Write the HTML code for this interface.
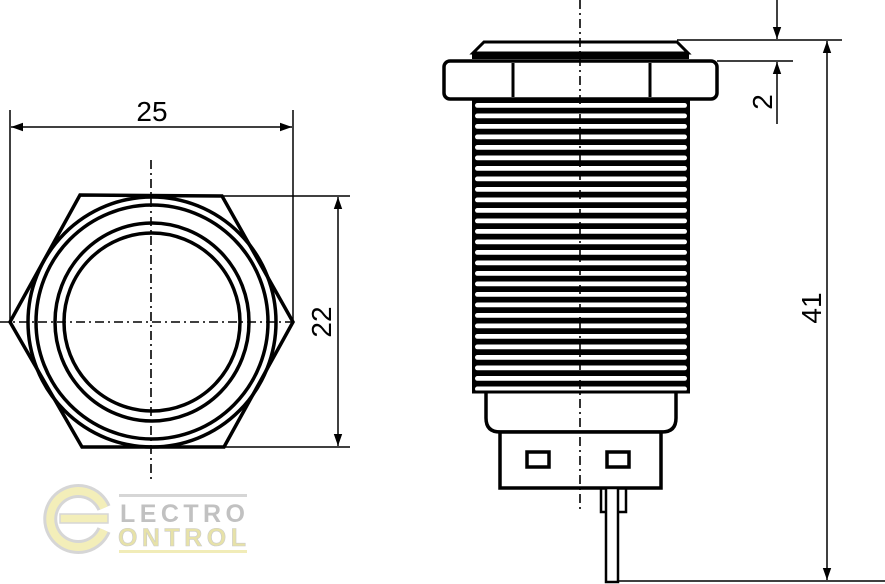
<!DOCTYPE html>
<html><head><meta charset="utf-8"><style>html,body{margin:0;padding:0;background:#fff}svg{display:block}</style></head>
<body>
<svg width="885" height="584" viewBox="0 0 885 584" xmlns="http://www.w3.org/2000/svg">
<defs>
<marker id="ar" viewBox="0 0 10 10" refX="10" refY="5" markerWidth="12" markerHeight="12" markerUnits="userSpaceOnUse" orient="auto-start-reverse"><path d="M0,1.5 L10,5 L0,8.5 z" fill="#000"/></marker>
<pattern id="thr" patternUnits="userSpaceOnUse" x="472" y="100" width="220" height="10.5">
<rect x="0" y="0" width="220" height="10.5" fill="#000"/>
<rect x="3" y="3" width="212" height="4.8" rx="2.4" fill="#fff"/>
</pattern>
</defs>
<!-- logo -->
<g opacity="0.6">
<path d="M104,530 A28,28 0 1 1 104,508" fill="none" stroke="#bbb" stroke-width="14"/>
<path d="M104,530 A28,28 0 1 1 104,508" fill="none" stroke="#ece48c" stroke-width="8"/>
<rect x="60" y="514" width="48" height="9" fill="#ece48c" stroke="#bbb" stroke-width="1.5"/>
<rect x="119" y="494" width="128" height="3" fill="#bbb"/>
<rect x="119" y="550" width="128" height="3" fill="#e8e08a"/>
<text x="120" y="522" font-family="Liberation Sans, sans-serif" font-weight="bold" font-size="25" fill="#999" textLength="125">LECTRO</text>
<text x="118" y="546" font-family="Liberation Sans, sans-serif" font-weight="bold" font-size="25" fill="#d8d070" stroke="#aaa" stroke-width="0.6" textLength="128">ONTROL</text>
</g>
<g fill="none" stroke="#000">
<!-- front view -->
<line x1="151" y1="160" x2="151" y2="482" stroke-width="1.6" stroke-dasharray="9,4,2,4"/>
<line x1="0" y1="322" x2="295" y2="322" stroke-width="1.6" stroke-dasharray="9,4,2,4"/>
<polygon points="80,195 222,196 293,322 224,447 82,447 10,322" stroke-width="3.5"/>
<ellipse cx="152" cy="322" rx="124" ry="125" stroke-width="3.5"/>
<ellipse cx="152" cy="322" rx="116" ry="117" stroke-width="3.5"/>
<ellipse cx="152" cy="322" rx="97" ry="99" stroke-width="3.5"/>
<ellipse cx="152" cy="322" rx="88" ry="89" stroke-width="3.5"/>
<g stroke-width="1.5">
<line x1="10" y1="110" x2="10" y2="322"/>
<line x1="293" y1="110" x2="293" y2="322"/>
<line x1="11" y1="127" x2="292" y2="127" marker-start="url(#ar)" marker-end="url(#ar)"/>
<line x1="222" y1="196" x2="350" y2="196"/>
<line x1="224" y1="447" x2="350" y2="447"/>
<line x1="338" y1="197" x2="338" y2="446" marker-start="url(#ar)" marker-end="url(#ar)"/>
</g>
<!-- side view -->
<rect x="472" y="100" width="218" height="292" fill="url(#thr)" stroke="none"/>
<path d="M486,392 L486,418 Q486,432 500,432 L662,432 Q676,432 676,418 L676,392" stroke-width="3.5" fill="#fff"/>
<line x1="472" y1="392" x2="690" y2="392" stroke-width="3"/>
<rect x="500" y="432" width="161" height="56" stroke-width="3.5" fill="#fff"/>
<rect x="527" y="452" width="22" height="15" stroke-width="3.5"/>
<rect x="607" y="452" width="22" height="15" stroke-width="3.5"/>
<rect x="601" y="488" width="25" height="24" stroke-width="2.5"/>
<rect x="606" y="488" width="12" height="94" stroke-width="2.5" fill="#fff"/>
<rect x="444" y="61" width="273" height="38" rx="6" stroke-width="3.5" fill="#fff"/>
<line x1="513" y1="63" x2="513" y2="97" stroke-width="3"/>
<line x1="650" y1="63" x2="650" y2="97" stroke-width="3"/>
<polygon points="484,42 677,42 688,53 473,53" stroke-width="3" fill="#fff"/>
<rect x="472" y="53" width="217" height="6" fill="#000" stroke="none"/>
<line x1="580" y1="0" x2="580" y2="512" stroke-width="1.6" stroke-dasharray="9,4,2,4"/>
<g stroke-width="1.5">
<line x1="677" y1="40" x2="842" y2="40"/>
<line x1="717" y1="61" x2="793" y2="61"/>
<line x1="777" y1="0" x2="777" y2="39" marker-end="url(#ar)"/>
<line x1="777" y1="124" x2="777" y2="62" marker-end="url(#ar)"/>
<line x1="827" y1="41" x2="827" y2="580" marker-start="url(#ar)" marker-end="url(#ar)"/>
<line x1="618" y1="581" x2="885" y2="581"/>
</g>
</g>
<g font-family="Liberation Sans, sans-serif" font-size="28" fill="#000" text-anchor="middle">
<text x="152" y="121">25</text>
<text transform="translate(331,322) rotate(-90)">22</text>
<text transform="translate(772,102) rotate(-90)">2</text>
<text transform="translate(821,308) rotate(-90)">41</text>
</g>
</svg>
</body></html>
